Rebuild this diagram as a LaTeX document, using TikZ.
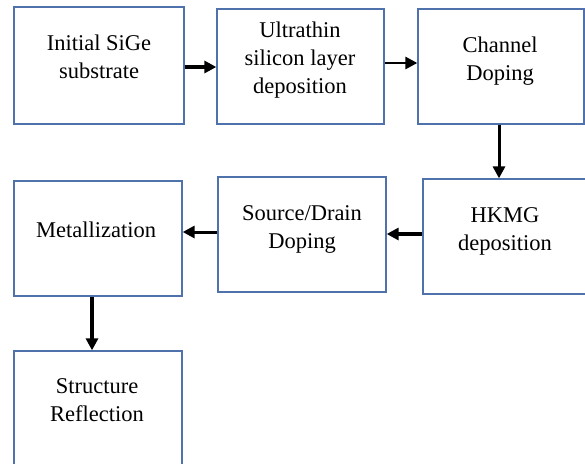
\documentclass[tikz,border=0pt]{standalone}
\usepackage{fontspec}
\setmainfont{Liberation Serif}
\usetikzlibrary{arrows.meta,calc}
\definecolor{boxblue}{HTML}{4F72AC}
\tikzset{
  stepbox/.style={draw=boxblue, line width=1.3pt, rectangle, inner sep=0pt},
  steptext/.style={anchor=base, align=center, inner sep=0pt, font=\fontsize{22.5}{28}\selectfont},
  flow/.style={line width=#1, draw=black, -{Triangle[length=12pt,width=12pt]}},
  flow/.default=3pt
}
\begin{document}
\begin{tikzpicture}[x=1pt,y=-1pt]
\useasboundingbox (0,0) rectangle (585,463);
\clip (0,0) rectangle (585,463);
\fill[white] (0,0) rectangle (585,463);
% boxes
\node[stepbox, minimum width=170pt, minimum height=117pt] (b1) at (99,65.5) {};
\node[stepbox, minimum width=167pt, minimum height=115pt] (b2) at (300.5,66.5) {};
\node[stepbox, minimum width=166pt, minimum height=115pt] (b3) at (501,66.5) {};
\node[stepbox, minimum width=177pt, minimum height=115pt] (b4) at (511.5,236.5) {};
\node[stepbox, minimum width=168pt, minimum height=115pt] (b5) at (302,234.5) {};
\node[stepbox, minimum width=168pt, minimum height=115pt] (b6) at (98,238.5) {};
\node[stepbox, minimum width=168pt, minimum height=125pt] (b7) at (98,413.5) {};
% texts (base = baseline of the last line)
\node[steptext] (t1) at (99,78) {Initial SiGe\\substrate};
\node[steptext] (t2) at (300,93) {Ultrathin\\silicon layer\\deposition};
\node[steptext] (t3) at (500,80) {Channel\\Doping};
\node[steptext] (t4) at (505,250) {HKMG\\deposition};
\node[steptext] (t5) at (302,248) {Source/Drain\\Doping};
\node[steptext] (t6) at (96,237) {Metallization};
\node[steptext] (t7) at (97,421) {Structure\\Reflection};
% connectors
\draw[flow=4pt] (b1.east |- 0,67) -- (b2.west |- 0,67);
\draw[flow=2.7pt] (b2.east |- 0,63) -- (b3.west |- 0,63);
\draw[flow=3pt] (b3.south -| 499,0) -- (b4.north -| 499,0);
\draw[flow=4pt] (b4.west |- 0,234) -- (b5.east |- 0,234);
\draw[flow=3pt] (b5.west |- 0,232) -- (b6.east |- 0,232);
\draw[flow=4pt] (b6.south -| 92,0) -- (b7.north -| 92,0);
\end{tikzpicture}
\end{document}
